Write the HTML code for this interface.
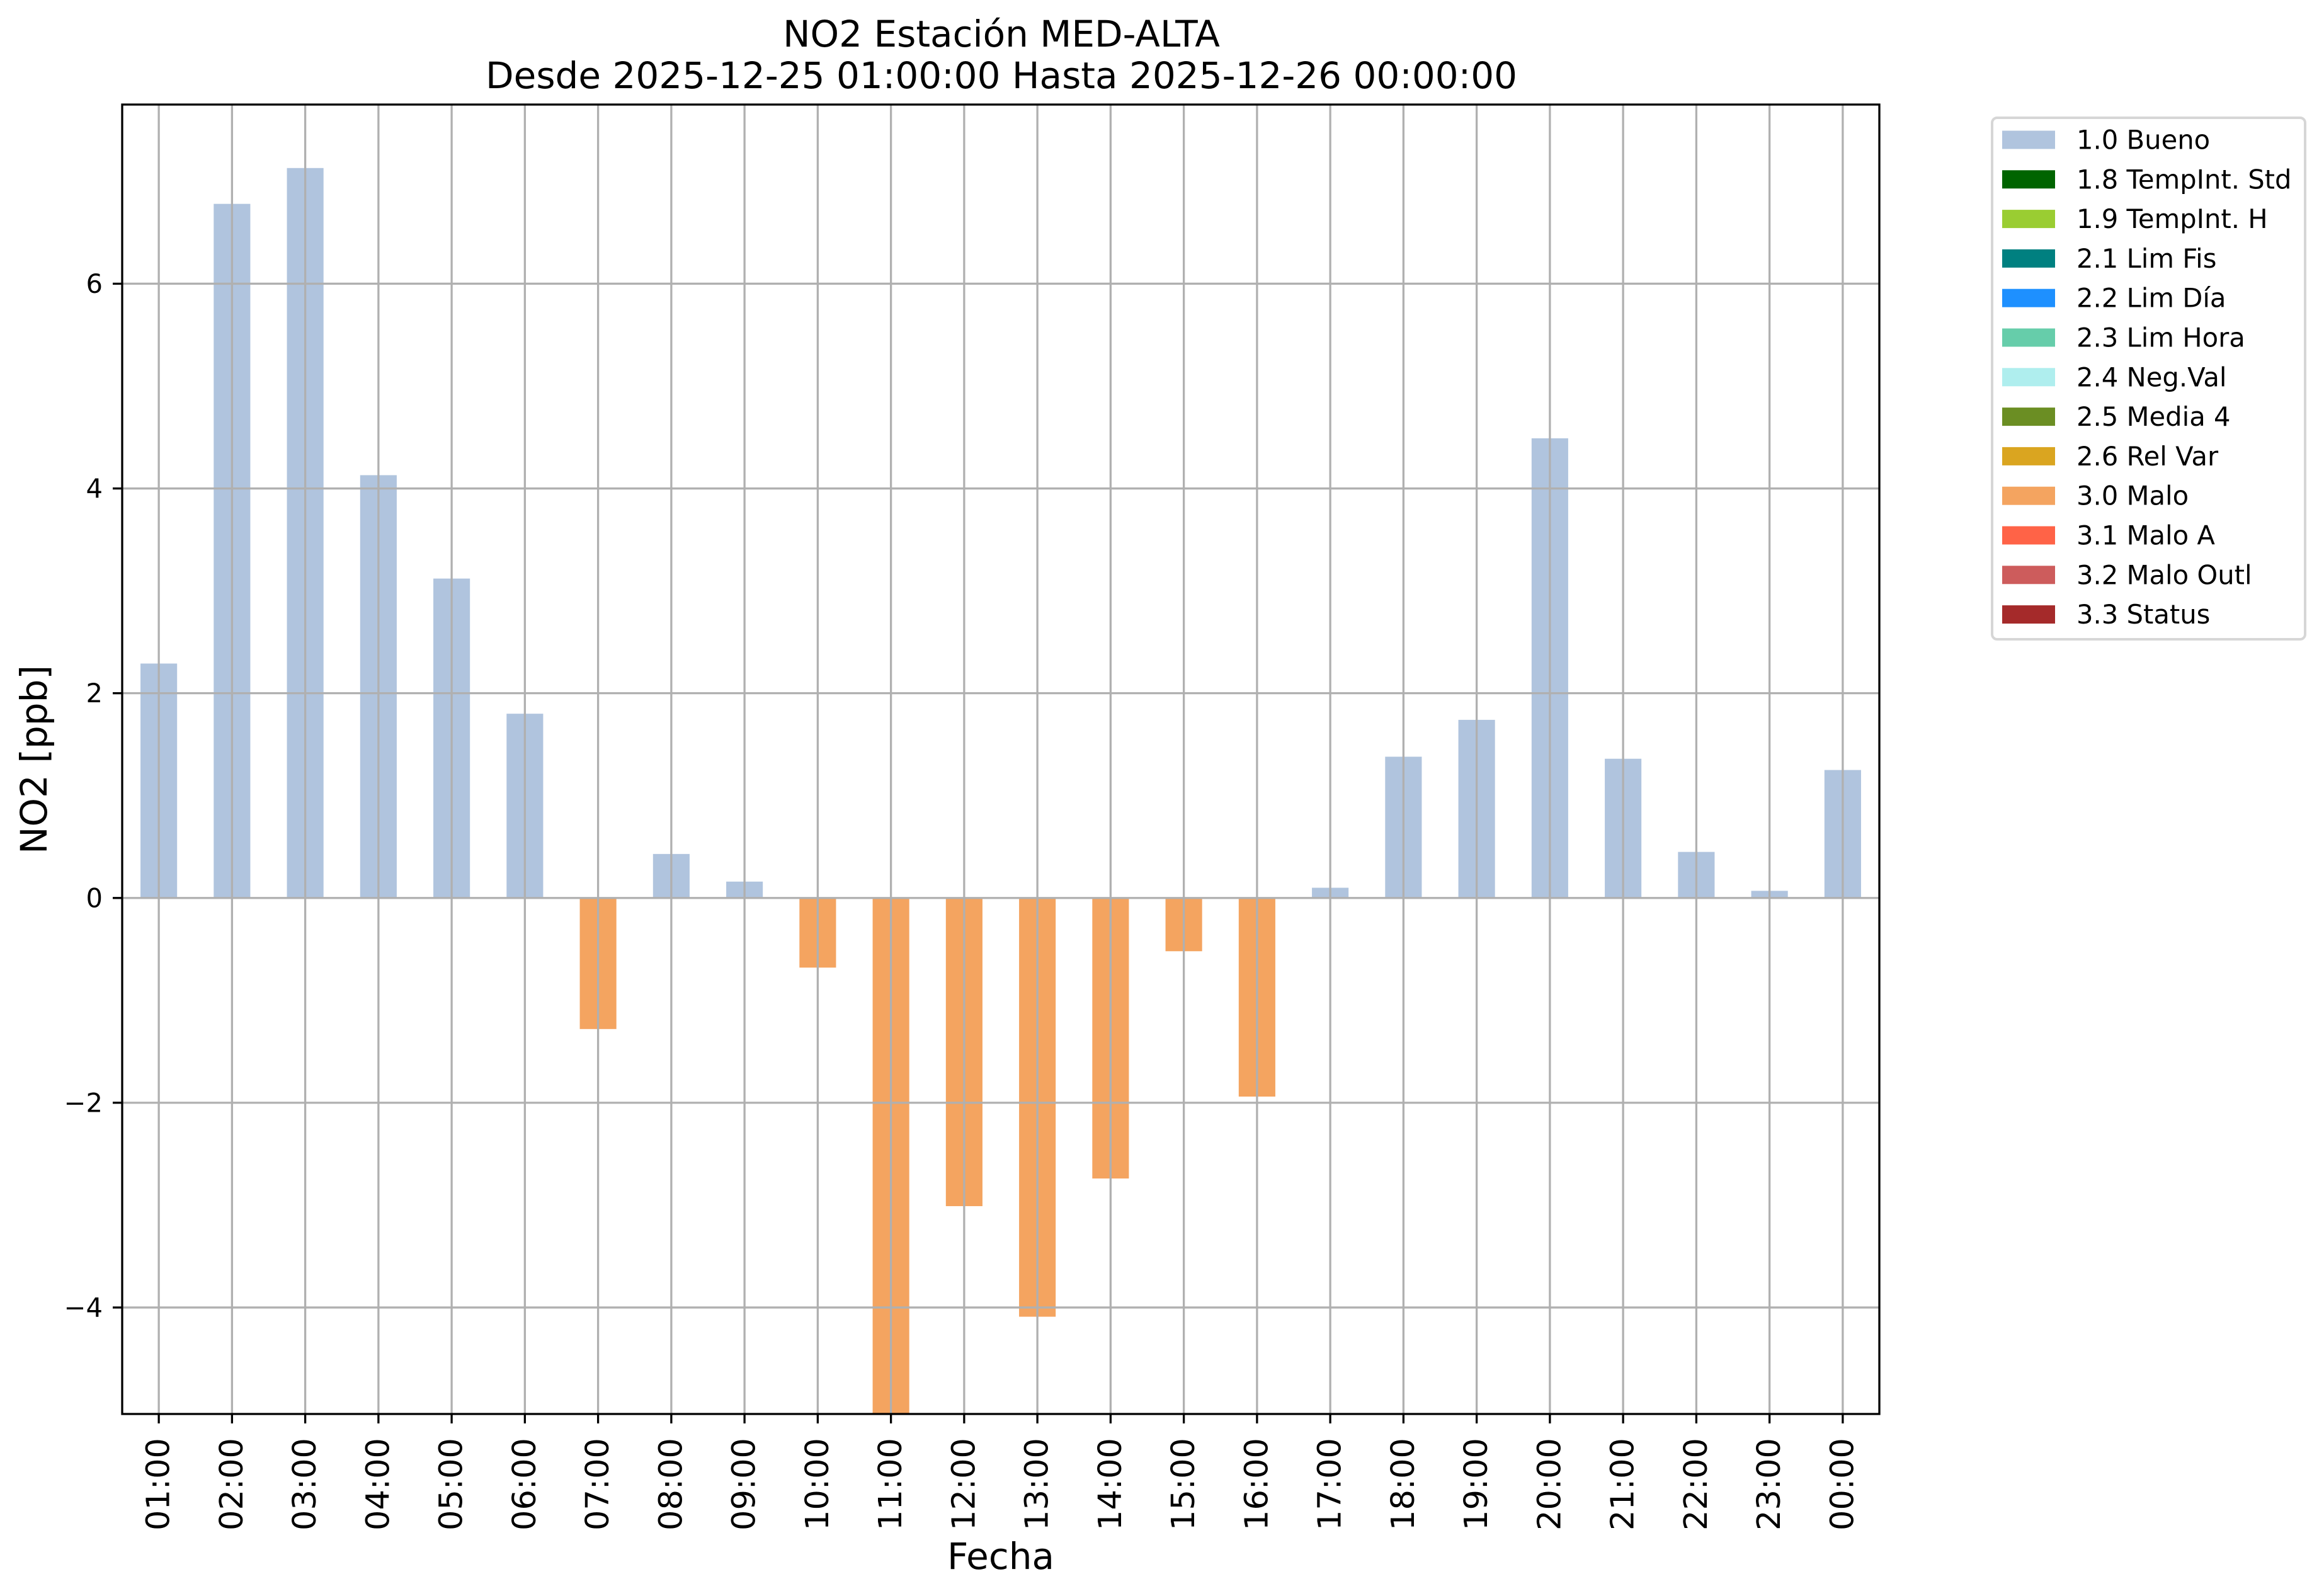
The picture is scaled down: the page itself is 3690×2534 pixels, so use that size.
<!DOCTYPE html>
<html><head><meta charset="utf-8"><style>
html,body{margin:0;padding:0;background:#fff}
svg{display:block}
text{font-family:"DejaVu Sans","Liberation Sans",sans-serif;fill:#000}
</style></head><body>
<svg id="chart" xmlns="http://www.w3.org/2000/svg" width="3690" height="2534" viewBox="0 0 3690 2534">
<rect width="3690" height="2534" fill="#fff"/>
<text x="1590" y="74" font-size="58" text-anchor="middle">NO2 Estación MED-ALTA</text>
<text x="1590" y="140" font-size="58" text-anchor="middle">Desde 2025-12-25 01:00:00 Hasta 2025-12-26 00:00:00</text>
<g id="grid"></g>
<g id="bars"></g>
<rect x="194" y="166" width="2790" height="2079" fill="none" stroke="#000" stroke-width="3.3"/>
<g id="ticks"></g>
<text x="1589" y="2491" font-size="58" text-anchor="middle">Fecha</text>
<text transform="translate(74,1206) rotate(-90)" font-size="58" text-anchor="middle">NO2 [ppb]</text>
<g id="legend"></g>
</svg>
<script>
const categories = ["01:00","02:00","03:00","04:00","05:00","06:00","07:00","08:00","09:00","10:00","11:00","12:00","13:00","14:00","15:00","16:00","17:00","18:00","19:00","20:00","21:00","22:00","23:00","00:00"];
const values = [2.29,6.78,7.13,4.13,3.12,1.80,-1.28,0.43,0.16,-0.68,-5.3,-3.01,-4.09,-2.74,-0.52,-1.94,0.10,1.38,1.74,4.49,1.36,0.45,0.07,1.25];
const flags = ["1.0","1.0","1.0","1.0","1.0","1.0","3.0","1.0","1.0","3.0","3.0","3.0","3.0","3.0","3.0","3.0","1.0","1.0","1.0","1.0","1.0","1.0","1.0","1.0"];
const yTicks = [-4,-2,0,2,4,6];
const yTickLabels = ["\u22124","\u22122","0","2","4","6"];
const legendLabels = ["1.0 Bueno","1.8 TempInt. Std","1.9 TempInt. H","2.1 Lim Fis","2.2 Lim Día","2.3 Lim Hora","2.4 Neg.Val","2.5 Media 4","2.6 Rel Var","3.0 Malo","3.1 Malo A","3.2 Malo Outl","3.3 Status"];
const legendColors = ["#b0c4de","#006400","#9acd32","#008080","#1e90ff","#66cdaa","#afeeee","#6b8e23","#daa520","#f4a460","#ff6347","#cd5c5c","#a52a2a"];

const NS="http://www.w3.org/2000/svg";
const AX={l:194,r:2984,t:166,b:2245};
const YMIN=-5.04, YMAX=7.75;
const xs=i=>AX.l+(i+0.5)*(AX.r-AX.l)/categories.length;
const ys=v=>AX.b-(v-YMIN)/(YMAX-YMIN)*(AX.b-AX.t);
const bw=0.5*(AX.r-AX.l)/categories.length;
function mk(tag,attrs,parent){const e=document.createElementNS(NS,tag);for(const k in attrs)e.setAttribute(k,attrs[k]);parent.appendChild(e);return e;}
const colorOf=f=>legendColors[legendLabels.findIndex(l=>l.startsWith(f))];

const grid=document.getElementById('grid');
yTicks.forEach((t,i)=>{const l=mk('line',{x1:AX.l,x2:AX.r,y1:ys(t),y2:ys(t),stroke:'#b0b0b0','stroke-width':3.3},grid);

});
categories.forEach((c,i)=>{const l=mk('line',{x1:xs(i),x2:xs(i),y1:AX.t,y2:AX.b,stroke:'#b0b0b0','stroke-width':3.3},grid);

});

const bars=document.getElementById('bars');
values.forEach((v,i)=>{const vc=Math.max(YMIN,Math.min(YMAX,v));const y0=ys(0),y1=ys(vc);
const r=mk('rect',{x:xs(i)-bw/2,y:Math.min(y0,y1),width:bw,height:Math.abs(y1-y0),fill:colorOf(flags[i])},bars);

});
bars.parentNode.insertBefore(bars,grid);

const ticks=document.getElementById('ticks');
yTicks.forEach((t,i)=>{const tk=mk('line',{x1:179,x2:194,y1:ys(t),y2:ys(t),stroke:'#000','stroke-width':3.3},ticks);


const tx=mk('text',{x:163,y:ys(t),'font-size':41.7,'text-anchor':'end','dominant-baseline':'central'},ticks);
tx.textContent=yTickLabels[i];

});
categories.forEach((c,i)=>{const tk=mk('line',{x1:xs(i),x2:xs(i),y1:AX.b,y2:AX.b+15,stroke:'#000','stroke-width':3.3},ticks);


const tx=mk('text',{transform:`translate(${xs(i)},2283) rotate(-90)`,'font-size':51,'text-anchor':'end','dominant-baseline':'central'},ticks);
tx.textContent=c;

});

const lg=document.getElementById('legend');
const box=mk('rect',{x:3163,y:187,width:497,height:828,rx:8,fill:'#fff',stroke:'#d6d6d6','stroke-width':4},lg);


legendLabels.forEach((l,i)=>{const cy=222+i*62.8;
const p=mk('rect',{x:3179,y:cy-14.5,width:84,height:29,fill:legendColors[i]},lg);


const t=mk('text',{x:3297,y:cy,'font-size':41.7,'dominant-baseline':'central'},lg);
t.textContent=l;

});
</script>
</body></html>
